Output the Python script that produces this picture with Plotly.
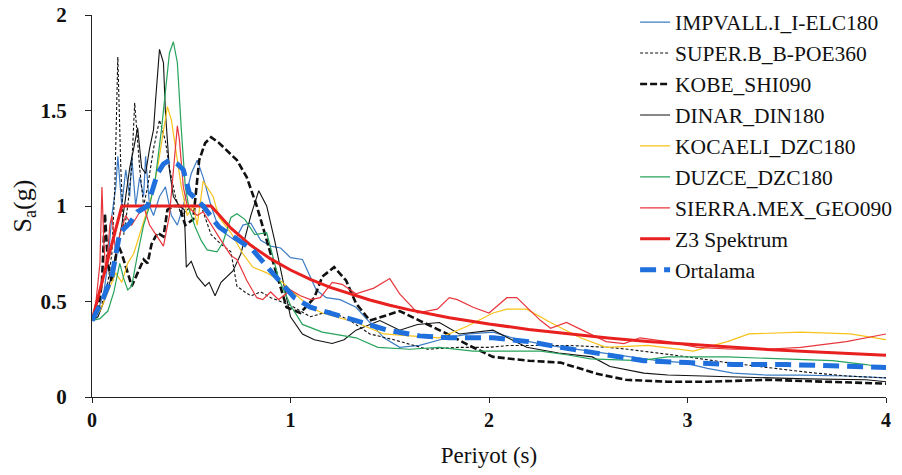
import plotly.graph_objects as go

# ---------------- data ----------------
impvall_T = [0, 0.03, 0.06, 0.08, 0.1, 0.12, 0.13, 0.15, 0.17, 0.19, 0.2, 0.22, 0.24, 0.26, 0.27, 0.29, 0.31, 0.34,
             0.37, 0.4, 0.43, 0.46, 0.5, 0.53, 0.56, 0.6, 0.64, 0.68, 0.72, 0.76, 0.8, 0.85, 0.9, 0.95, 1.0, 1.06,
             1.13, 1.18, 1.25, 1.33, 1.4, 1.47, 1.55, 1.65, 1.79, 1.9, 2.02, 2.15, 2.3, 2.5, 2.7, 2.85, 2.98, 3.1,
             3.23, 3.4, 3.57, 3.8, 4.0]
impvall_S = [0.4, 0.45, 0.55, 0.7, 0.95, 1.1, 1.26, 1.0, 1.19, 1.05, 1.26, 1.0, 1.15, 1.05, 1.26, 1.0, 0.95, 1.05,
             1.1, 0.95, 0.9, 1.0, 1.17, 1.24, 1.15, 1.0, 0.88, 0.85, 0.82, 0.9, 0.91, 0.82, 0.79, 0.78, 0.73, 0.72,
             0.56, 0.52, 0.51, 0.47, 0.39, 0.31, 0.26, 0.27, 0.31, 0.33, 0.34, 0.30, 0.27, 0.24, 0.21, 0.19, 0.18, 0.15,
             0.125, 0.115, 0.115, 0.11, 0.10]

superb_T = [0, 0.04, 0.08, 0.1, 0.115, 0.13, 0.145, 0.16, 0.18, 0.2, 0.215, 0.24, 0.26, 0.28, 0.31, 0.34, 0.37, 0.39,
            0.42, 0.45, 0.5, 0.55, 0.6, 0.65, 0.7, 0.73, 0.77, 0.8, 0.85, 0.9, 1.0, 1.1, 1.2, 1.3, 1.4, 1.52, 1.69,
            1.85, 2.0, 2.1, 2.4, 2.6, 2.7, 2.86, 3.0, 3.2, 3.45, 3.6, 3.8, 4.0]
superb_S = [0.4, 0.45, 0.6, 0.75, 1.1, 1.78, 1.2, 0.85, 1.0, 1.2, 1.54, 1.2, 1.0, 1.1, 1.3, 1.45, 1.34, 1.2,
            1.05, 0.95, 1.0, 1.0, 0.85, 0.8, 0.76, 0.58, 0.55, 0.53, 0.55, 0.52, 0.48, 0.42, 0.45, 0.40, 0.33, 0.30, 0.25,
            0.26, 0.26, 0.27, 0.27, 0.26, 0.25, 0.23, 0.21, 0.18, 0.15, 0.13, 0.11, 0.10]

kobe_T = [0, 0.03, 0.05, 0.065, 0.08, 0.1, 0.13, 0.15, 0.18, 0.2, 0.23, 0.26, 0.28, 0.3, 0.33, 0.36, 0.38, 0.41,
          0.44, 0.47, 0.51, 0.54, 0.57, 0.6, 0.64, 0.68, 0.73, 0.78, 0.83, 0.9, 0.98, 1.05, 1.12, 1.16, 1.22, 1.28,
          1.33, 1.4, 1.46, 1.55, 1.65, 1.79, 1.9, 2.02, 2.2, 2.36, 2.55, 2.69, 2.9, 3.1, 3.4, 3.7, 4.0]
kobe_S = [0.4, 0.45, 0.6, 0.96, 0.7, 0.6, 0.8, 0.75, 0.65, 0.58, 0.65, 0.72, 0.7, 0.8, 0.86, 0.84, 0.98, 1.0,
          1.0, 0.9, 0.93, 1.24, 1.33, 1.36, 1.33, 1.29, 1.24, 1.15, 1.0, 0.75, 0.47, 0.44, 0.52, 0.63, 0.68, 0.61,
          0.49, 0.40, 0.42, 0.45, 0.40, 0.33, 0.27, 0.21, 0.19, 0.18, 0.12, 0.09, 0.08, 0.08, 0.09, 0.08, 0.07]

dinar_T = [0, 0.03, 0.06, 0.09, 0.12, 0.15, 0.17, 0.19, 0.21, 0.23, 0.25, 0.27, 0.29, 0.31, 0.32, 0.34, 0.36, 0.37,
           0.39, 0.41, 0.44, 0.465, 0.475, 0.5, 0.53, 0.57, 0.59, 0.62, 0.65, 0.68, 0.71, 0.75, 0.8, 0.84, 0.88,
           0.92, 0.96, 1.0, 1.06, 1.12, 1.21, 1.27, 1.33, 1.45, 1.55, 1.64, 1.75, 1.85, 2.02, 2.19, 2.35, 2.52,
           2.61, 2.78, 2.9, 3.23, 3.6, 3.9, 4.0]
dinar_S = [0.4, 0.42, 0.5, 0.6, 0.75, 0.9, 1.05, 1.2, 1.3, 1.41, 1.2, 1.17, 1.3, 1.4, 1.55, 1.82, 1.75, 1.49,
           1.19, 1.05, 1.0, 0.98, 0.68, 0.71, 0.63, 0.58, 0.6, 0.53, 0.6, 0.63, 0.66, 0.75, 0.95, 1.08, 1.0,
           0.82, 0.62, 0.42, 0.33, 0.30, 0.28, 0.3, 0.35, 0.40, 0.35, 0.38, 0.39, 0.33, 0.35, 0.26, 0.23, 0.21,
           0.16, 0.125, 0.115, 0.105, 0.095, 0.09, 0.08]

kocaeli_T = [0, 0.04, 0.08, 0.12, 0.15, 0.18, 0.21, 0.24, 0.27, 0.3, 0.33, 0.36, 0.38, 0.4, 0.42, 0.45, 0.48, 0.51,
             0.53, 0.56, 0.61, 0.64, 0.7, 0.76, 0.81, 0.88, 0.96, 1.0, 1.1, 1.16, 1.33, 1.47, 1.6, 1.75, 1.89, 2.02,
             2.09, 2.19, 2.31, 2.46, 2.59, 2.8, 3.03, 3.2, 3.31, 3.57, 3.82, 4.0]
kocaeli_S = [0.4, 0.45, 0.55, 0.65, 0.6, 0.7, 0.75, 0.85, 0.95, 1.05, 1.2, 1.4, 1.52, 1.45, 1.3, 1.1, 0.95, 1.0,
             0.9, 1.13, 1.05, 0.94, 0.86, 0.75, 0.68, 0.65, 0.6, 0.56, 0.47, 0.44, 0.39, 0.33, 0.32, 0.31, 0.37, 0.44,
             0.46, 0.46, 0.39, 0.31, 0.26, 0.27, 0.24, 0.29, 0.33, 0.34, 0.33, 0.30]

duzce_T = [0, 0.04, 0.08, 0.11, 0.14, 0.16, 0.18, 0.2, 0.23, 0.26, 0.29, 0.32, 0.35, 0.37, 0.39, 0.41, 0.43, 0.45,
           0.47, 0.49, 0.52, 0.55, 0.58, 0.63, 0.66, 0.7, 0.73, 0.77, 0.82, 0.88, 0.94, 1.0, 1.06, 1.16, 1.33, 1.44,
           1.6, 1.75, 1.92, 2.1, 2.26, 2.4, 2.51, 2.76, 2.9, 3.2, 3.5, 3.73, 3.9, 4.0]
duzce_S = [0.4, 0.41, 0.45, 0.55, 0.7, 0.62, 0.56, 0.58, 0.75, 0.9, 1.0, 1.15, 1.4, 1.6, 1.8, 1.86, 1.75, 1.4,
           1.1, 0.98, 0.89, 0.82, 0.77, 0.76, 0.81, 0.94, 0.96, 0.93, 0.85, 0.86, 0.62, 0.48, 0.38, 0.34, 0.31, 0.26,
           0.25, 0.26, 0.24, 0.24, 0.24, 0.22, 0.20, 0.19, 0.21, 0.21, 0.2, 0.19, 0.17, 0.15]

sierra_T = [0, 0.02, 0.04, 0.05, 0.06, 0.07, 0.09, 0.1, 0.12, 0.14, 0.17, 0.2, 0.23, 0.26, 0.29, 0.32, 0.36, 0.39,
            0.41, 0.43, 0.44, 0.46, 0.48, 0.5, 0.53, 0.56, 0.6, 0.65, 0.7, 0.73, 0.78, 0.83, 0.86, 0.9, 0.94, 1.0,
            1.05, 1.1, 1.15, 1.21, 1.26, 1.33, 1.42, 1.5, 1.55, 1.64, 1.74, 1.8, 1.84, 1.92, 2.0, 2.09, 2.14, 2.26,
            2.31, 2.39, 2.47, 2.59, 2.68, 2.76, 2.9, 3.05, 3.23, 3.4, 3.57, 3.8, 4.0]
sierra_S = [0.4, 0.5, 0.7, 1.1, 0.8, 0.65, 0.9, 0.95, 0.75, 0.85, 0.95, 0.9, 0.95, 1.0, 0.9, 0.85, 0.79, 0.95,
            1.2, 1.42, 1.35, 1.1, 1.0, 0.98, 0.95, 0.97, 0.9, 0.82, 0.74, 0.72, 0.61, 0.52, 0.51, 0.55, 0.51, 0.56,
            0.53, 0.51, 0.52, 0.6, 0.59, 0.54, 0.57, 0.62, 0.54, 0.44, 0.46, 0.52, 0.51, 0.47, 0.44, 0.52, 0.52, 0.40,
            0.36, 0.39, 0.35, 0.29, 0.28, 0.31, 0.29, 0.26, 0.25, 0.25, 0.26, 0.29, 0.33]

z3_T = [0, 0.15, 0.6, 0.7, 0.8, 0.9, 1.0, 1.1, 1.2, 1.3, 1.4, 1.5, 1.6, 1.8, 2.0, 2.2, 2.4, 2.6, 2.8, 3.0, 3.2,
        3.4, 3.6, 3.8, 4.0]
z3_S = [0.4, 1.0, 1.0, 0.884, 0.794, 0.723, 0.665, 0.616, 0.574, 0.539, 0.508, 0.480, 0.456, 0.415, 0.382, 0.354,
        0.330, 0.309, 0.291, 0.276, 0.262, 0.249, 0.238, 0.228, 0.219]

mean_T = [0, 0.05, 0.1, 0.14, 0.19, 0.23, 0.28, 0.33, 0.36, 0.39, 0.43, 0.46, 0.49, 0.53, 0.56, 0.64, 0.72, 0.81,
          0.9, 0.95, 1.02, 1.1, 1.2, 1.3, 1.4, 1.49, 1.65, 1.8, 2.02, 2.2, 2.36, 2.55, 2.78, 3.0, 3.23, 3.5, 3.75, 4.0]
mean_S = [0.4, 0.5, 0.63, 0.86, 0.91, 0.97, 1.0, 1.17, 1.22, 1.24, 1.22, 1.19, 1.07, 1.03, 1.0, 0.89, 0.83, 0.77,
          0.66, 0.60, 0.52, 0.47, 0.44, 0.41, 0.38, 0.35, 0.32, 0.31, 0.31, 0.29, 0.26, 0.23, 0.19, 0.18, 0.17, 0.17,
          0.16, 0.155]

x_ticks = [0, 1, 2, 3, 4]
y_ticks = [0, 0.5, 1, 1.5, 2]
y_tick_labels = ["0", "0.5", "1", "1.5", "2"]

# ---------------- figure ----------------
series = [
    ("IMPVALL.I_I-ELC180", impvall_T, impvall_S, dict(color="#3d7cc4", width=1.2)),
    ("SUPER.B_B-POE360", superb_T, superb_S, dict(color="#111111", width=1.1, dash="3px,2px")),
    ("KOBE_SHI090", kobe_T, kobe_S, dict(color="#111111", width=2.6, dash="7px,3px")),
    ("DINAR_DIN180", dinar_T, dinar_S, dict(color="#111111", width=1.1)),
    ("KOCAELI_DZC180", kocaeli_T, kocaeli_S, dict(color="#f7c21b", width=1.2)),
    ("DUZCE_DZC180", duzce_T, duzce_S, dict(color="#27a35c", width=1.2)),
    ("SIERRA.MEX_GEO090", sierra_T, sierra_S, dict(color="#e8363c", width=1.2)),
    ("Z3 Spektrum", z3_T, z3_S, dict(color="#e8201f", width=3)),
    ("Ortalama", mean_T, mean_S, dict(color="#1f6fdc", width=5, dash="16px,8px")),
]

fig = go.Figure()
for i, (name, t, s, line) in enumerate(series):
    fig.add_trace(go.Scatter(x=t, y=s, mode="lines", name=name, line=line,
                             legendgroup=f"g{i}"))

serif = "Liberation Serif"
# the page body adds an 8px offset, so the figure is 8px smaller and margins are shifted
fig.update_layout(
    width=894, height=467,
    margin=dict(l=84, r=16, t=7, b=78, autoexpand=False),
    paper_bgcolor="white", plot_bgcolor="white",
    font=dict(family=serif, color="#111111"),
    showlegend=True,
    legend=dict(x=0.684, y=1.035, xanchor="left", yanchor="top",
                font=dict(family=serif, size=21.5, color="#111111"),
                bgcolor="rgba(255,255,255,0)", tracegroupgap=0, maxheight=440),
    xaxis=dict(range=[0, 4], tickvals=x_ticks, showgrid=False, zeroline=False,
               showline=True, linecolor="#222222", linewidth=1.2,
               ticks="outside", ticklen=5, tickcolor="#222222",
               tickfont=dict(family=serif, size=20, color="#111111", weight="bold"),
               ticklabelstandoff=0, ticklabeloverflow="allow",
               title=dict(text="Periyot (s)", font=dict(family=serif, size=23), standoff=16)),
    yaxis=dict(range=[0, 2], tickvals=y_ticks, ticktext=y_tick_labels, showgrid=False, zeroline=False,
               showline=True, linecolor="#222222", linewidth=1.2,
               ticks="outside", ticklen=6, tickcolor="#222222",
               tickfont=dict(family=serif, size=21, color="#111111", weight="bold"),
               ticklabelstandoff=14, ticklabeloverflow="allow",
               title=dict(text="S<sub>a</sub>(g)", font=dict(family=serif, size=26), standoff=14)),
)

fig.write_html("out.html")
